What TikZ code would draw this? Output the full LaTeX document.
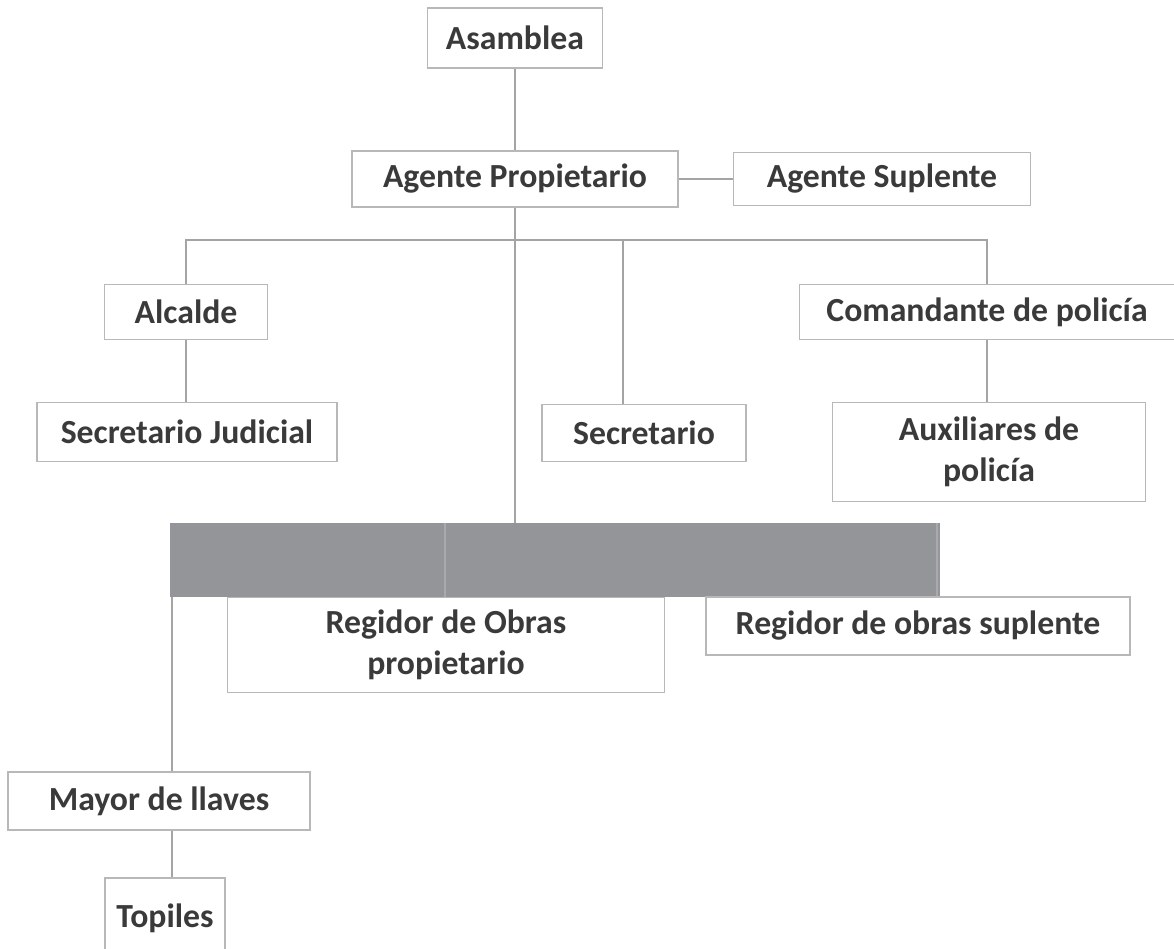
\documentclass[tikz,border=0pt]{standalone}
\usepackage{fontspec}
\setmainfont{Carlito}
\definecolor{boxline}{HTML}{B8B8B8}
\definecolor{linkgrey}{HTML}{A4A4A4}
\definecolor{bargrey}{HTML}{939598}
\definecolor{txt}{HTML}{3A3A3A}

\begin{document}
\begin{tikzpicture}[x=0.02cm, y=-0.02cm,
    box/.style={draw=boxline, line width=0.8pt, fill=white, text=txt,
        font=\bfseries\fontsize{19.2}{23}\selectfont, align=center, inner sep=0pt},
    link/.style={draw=linkgrey, line width=1.3pt}]

    \useasboundingbox (0,0) rectangle (1174,949);

    % --- Top: assembly and agents ---
    \node[box, minimum width=3.5cm, minimum height=1.2cm] (asam) at (515,38) {Asamblea};
    \node[box, minimum width=6.52cm, minimum height=1.12cm] (prop) at (515,179) {Agente Propietario};
    \node[box, minimum width=5.94cm, minimum height=1.06cm] (sup) at (882,179) {Agente Suplente};

    % --- Second level ---
    \node[box, minimum width=3.26cm, minimum height=1.1cm] (alc) at (186,312) {Alcalde};
    \node[box, minimum width=7.5cm, minimum height=1.1cm] (com) at (987,312) {Comandante de policía};
    \node[box, minimum width=6cm, minimum height=1.18cm] (sj) at (187,432) {Secretario Judicial};
    \node[box, minimum width=4.08cm, minimum height=1.14cm] (sec) at (644,433) {Secretario};
    \node[box, minimum width=6.26cm, minimum height=1.98cm] (aux) at (989,452) {Auxiliares de\\policía};

    % --- Works board (grey bar) ---
    \node[fill=bargrey, inner sep=0pt, minimum width=15.4cm, minimum height=1.48cm] (bar) at (555,560) {};
    \draw[draw=bargrey!80!white, line width=1pt] (445,523) -- (445,597);
    \draw[draw=bargrey!80!white, line width=1.5pt] (937,523) -- (937,597);
    \node[box, minimum width=8.74cm, minimum height=1.9cm] (rp) at (446,645) {Regidor de Obras\\propietario};
    \node[box, minimum width=8.48cm, minimum height=1.16cm] (rs) at (918,626) {Regidor de obras suplente};

    % --- Bottom ---
    \node[box, minimum width=6.04cm, minimum height=1.16cm] (may) at (159,801) {Mayor de llaves};
    \node[box, minimum width=2.4cm, minimum height=1.6cm] (top) at (165,918) {Topiles};

    % --- Connectors ---
    \coordinate (bus) at (515,240);
    \coordinate (secdrop) at (623,240);
    \coordinate (barfoot) at (172,597);

    \draw[link] (asam.south) -- (prop.north);
    \draw[link] (prop.east) -- (sup.west);
    \draw[link] (prop.south) -- (prop.south |- bar.north);
    \draw[link] (alc.north) |- (bus) -| (com.north);
    \draw[link] (secdrop) -- (secdrop |- sec.north);
    \draw[link] (alc.south) -- (sj.north -| alc.south);
    \draw[link] (com.south) -- (aux.north -| com.south);
    \draw[link] (barfoot) -- (barfoot |- may.north);
    \draw[link] (may.south -| barfoot) -- (barfoot |- top.north);

\end{tikzpicture}
\end{document}
